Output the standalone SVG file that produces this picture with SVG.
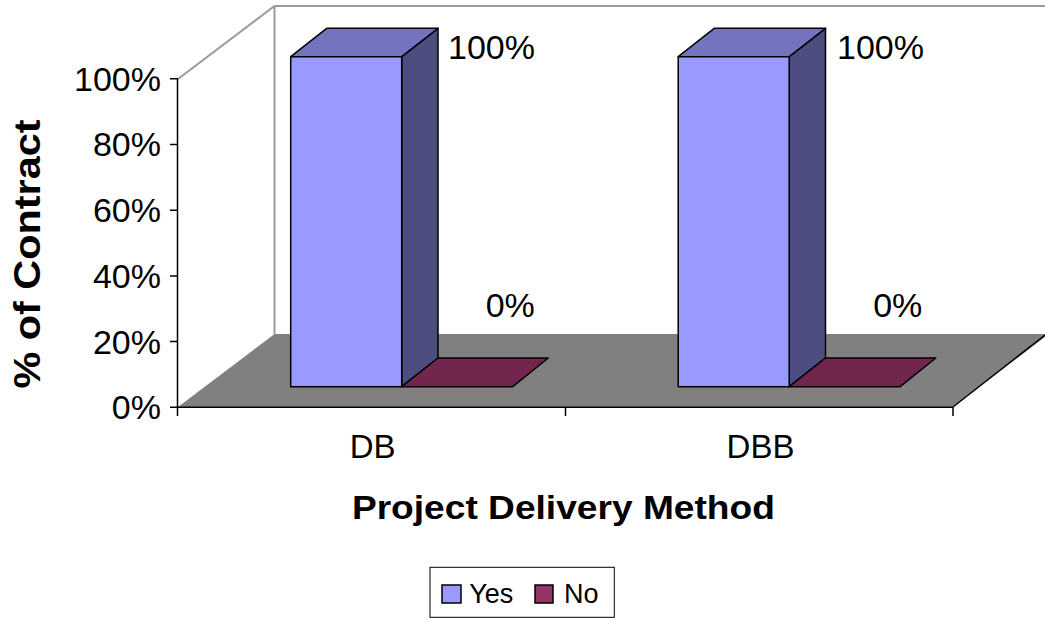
<svg xmlns="http://www.w3.org/2000/svg" width="1045" height="619" viewBox="0 0 1045 619">
<style>
.t{font-family:"Liberation Sans",Arial,sans-serif;fill:#000}
.tick{font-size:34px;text-anchor:end}
.dl{font-size:34px}
.cat{font-size:33px;text-anchor:middle}
.b{font-weight:bold}
.ax{stroke:#000;stroke-width:1.5;fill:none}
.wall{stroke:#999;stroke-width:2;fill:none}
.yf{fill:#9999FF;stroke:#000;stroke-width:1.5;stroke-linejoin:round}
.yt{fill:#7373BF;stroke:#000;stroke-width:1.5;stroke-linejoin:round}
.ys{fill:#4D4D80;stroke:#000;stroke-width:1.5;stroke-linejoin:round}
.nt{fill:#73264D;stroke:#000;stroke-width:1.5;stroke-linejoin:round}
</style>
<rect width="1045" height="619" fill="#fff"/>
<g id="walls">
<polygon points="178,407 274.5,334 1049,334 953,407" fill="#808080"/>
<line class="wall" x1="274.5" y1="6" x2="274.5" y2="334"/>
<line class="wall" x1="274.5" y1="6" x2="1045" y2="6"/>
<line class="wall" x1="178" y1="79" x2="274.5" y2="6"/>
<line class="ax" x1="953" y1="407" x2="1045" y2="335" stroke-width="1"/>
</g>
<g id="axes">
<line class="ax" x1="177.5" y1="78.8" x2="177.5" y2="416"/>
<line class="ax" x1="177.5" y1="407.3" x2="953" y2="407.3"/>
<path class="ax" d="M170 78.8H178M170 144.5H178M170 210.2H178M170 275.9H178M170 341.6H178M170 407.3H178M565.5 407V416M953 407V416"/>
<text class="t tick" x="161" y="90.7">100%</text>
<text class="t tick" x="161" y="156.4">80%</text>
<text class="t tick" x="161" y="222.1">60%</text>
<text class="t tick" x="161" y="287.8">40%</text>
<text class="t tick" x="161" y="353.5">20%</text>
<text class="t tick" x="161" y="419.2">0%</text>
<text class="t cat" x="372.7" y="457.7">DB</text>
<text class="t cat" x="760.5" y="457.7">DBB</text>
<text class="t b" x="563.4" y="519" font-size="34" text-anchor="middle" textLength="423" lengthAdjust="spacingAndGlyphs">Project Delivery Method</text>
<text class="t b" transform="translate(40,254) rotate(-90)" font-size="36" text-anchor="middle" textLength="269" lengthAdjust="spacingAndGlyphs">% of Contract</text>
</g>
<g id="bar-db-yes">
<polygon class="ys" points="401.7,56.7 438,28.3 438,358 401.7,386.7"/>
<polygon class="yt" points="290.7,56.7 401.7,56.7 438,28.3 326.7,28.3"/>
<rect class="yf" x="290.7" y="56.7" width="111" height="330"/>
<text class="t dl" x="448" y="58.5">100%</text>
</g>
<g id="bar-db-no">
<polygon class="nt" points="401.7,386.7 512.7,386.7 548.3,358 438,358"/>
<text class="t dl" x="485.7" y="317">0%</text>
</g>
<g id="bar-dbb-yes">
<polygon class="ys" points="789.2,56.7 825.5,28.3 825.5,358 789.2,386.7"/>
<polygon class="yt" points="678.2,56.7 789.2,56.7 825.5,28.3 714.2,28.3"/>
<rect class="yf" x="678.2" y="56.7" width="111" height="330"/>
<text class="t dl" x="837" y="59">100%</text>
</g>
<g id="bar-dbb-no">
<polygon class="nt" points="789.2,386.7 900.2,386.7 935.8,358 825.5,358"/>
<text class="t dl" x="873.2" y="317">0%</text>
</g>
<g id="legend">
<rect x="430" y="567.3" width="184.3" height="50" fill="#fff" stroke="#000" stroke-width="1"/>
<rect x="442" y="585" width="19" height="18" fill="#9999FF" stroke="#000" stroke-width="1.5"/>
<text class="t" x="469.3" y="602.7" font-size="27">Yes</text>
<rect x="535" y="585" width="18" height="18" fill="#993366" stroke="#000" stroke-width="1.5"/>
<text class="t" x="564" y="602.7" font-size="27">No</text>
</g>
</svg>
